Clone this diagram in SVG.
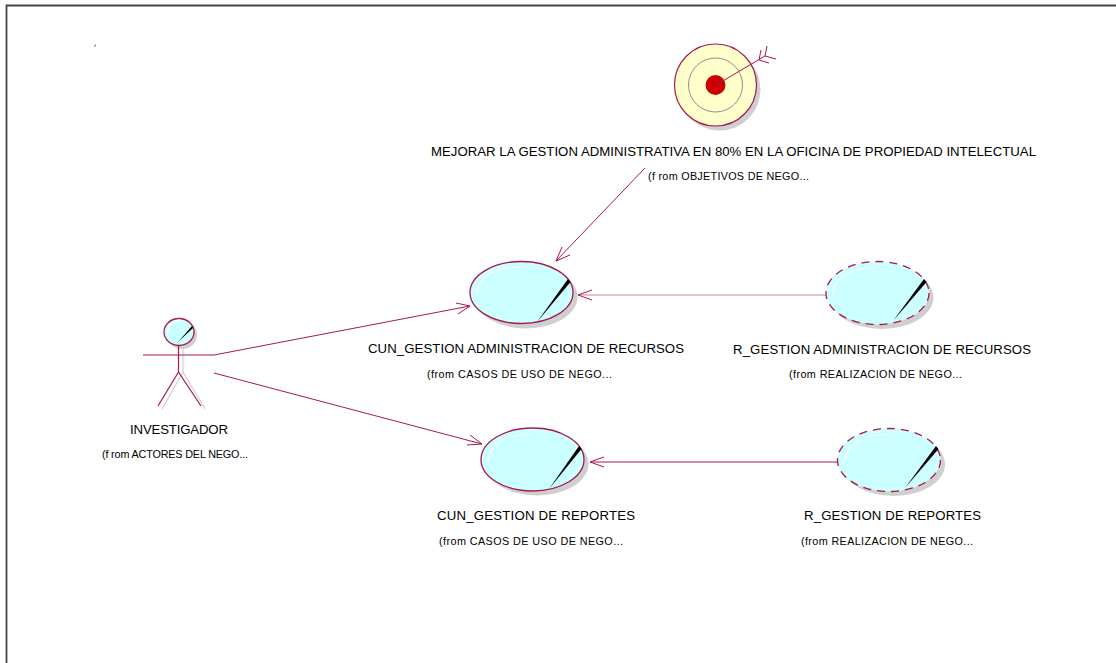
<svg xmlns="http://www.w3.org/2000/svg" width="1116" height="663" viewBox="0 0 1116 663">
<style>
text{font-family:"Liberation Sans",Arial,sans-serif;fill:#000;text-anchor:start}
.n{font-size:13.200px}
.s{font-size:10.800px}
.c{fill:none;stroke:#a8174f;stroke-width:1}
.f{fill:none;stroke:#d4809f;stroke-width:1}
.sh{fill:#cfcfcf;stroke:none}
.b{fill:#ccffff;stroke:#a8174f;stroke-width:1.300}
.d{fill:#ccffff;stroke:#a8174f;stroke-width:1.300;stroke-dasharray:8 6}
.g{fill:none;stroke:#fff;stroke-width:1.200}
.k{fill:#000;stroke:none}
</style>
<path d="M6.500 663V5.500H1116" fill="none" stroke="#444" stroke-width="1.800"/>
<path d="M94.500 47L95.500 44.500" stroke="#c0406f" stroke-width="1" fill="none"/>
<g id="connectors">
<path class="c" d="M645 168L556 261M556 261L570 255M556 261L562 247"/>
<path class="f" d="M826 295H578"/><path class="c" d="M578 295L592 290M578 295L592 300"/>
<path class="c" d="M214 355L470 306M470 306L456 303M470 306L458 314"/>
<path class="c" d="M214 373L482 444M482 444L470 435M482 444L467 445"/>
<path class="c" d="M838 462H590M590 462L604 457M590 462L604 467"/>
</g>
<g id="goal">
<circle class="sh" cx="719.500" cy="89.500" r="41"/>
<circle cx="715.500" cy="85" r="41" fill="#ffffcc" stroke="#a8174f" stroke-width="1.200"/>
<circle cx="715.500" cy="85" r="27" fill="none" stroke="#8f8f8f" stroke-width="1"/>
<circle cx="715.500" cy="85" r="10" fill="#cc0000"/>
<path class="c" d="M716 85L765 56M759 60L761 50M759 60L769 63M765 56L767 46M765 56L776 59"/>
<text class="n" x="431" y="156" textLength="605">MEJORAR LA GESTION ADMINISTRATIVA EN 80% EN LA OFICINA DE PROPIEDAD INTELECTUAL</text>
<text class="s" x="648" y="180" textLength="161">(f rom OBJETIVOS DE NEGO...</text>
</g>
<g id="actor">
<ellipse class="sh" cx="182" cy="335" rx="15" ry="14"/>
<path d="M183 345V372L205 409M183 372L162 409" fill="none" stroke="#d0d0d0" stroke-width="1.200"/>
<ellipse class="b" cx="179" cy="332" rx="15" ry="13.500"/>
<path class="g" d="M168 332C168 325 173 321 180 320"/>
<path class="k" d="M178 342L192 326L193 328Z"/>
<path class="c" d="M178.500 345V372M143 355H214M178.500 372L158 406M178.500 372L201 406" style="stroke-width:1.200"/>
<text class="n" x="130" y="434" textLength="98">INVESTIGADOR</text>
<text class="s" x="102" y="458" textLength="146">(f rom ACTORES DEL NEGO...</text>
</g>
<g id="cun1">
<ellipse class="sh" cx="526" cy="297" rx="51.500" ry="31.500"/>
<ellipse class="b" cx="521.500" cy="292.500" rx="51.500" ry="31"/>
<path class="g" d="M476.500 294C477 276 497 267 519 267.500"/>
<path class="k" d="M537 322L568 279L570.500 282Z"/>
<text class="n" x="368" y="353" textLength="316">CUN_GESTION ADMINISTRACION DE RECURSOS</text>
<text class="s" x="427" y="378" textLength="185">(from CASOS DE USO DE NEGO...</text>
</g>
<g id="real1">
<ellipse class="sh" cx="882" cy="297.500" rx="51.500" ry="31.500"/>
<ellipse class="d" cx="877.500" cy="293" rx="51.500" ry="31.500"/>
<path class="g" d="M833 294C834 276 854 267 877 267.500"/>
<path class="k" d="M893 321L924 279L926.500 282Z"/>
<text class="n" x="733" y="354" textLength="298">R_GESTION ADMINISTRACION DE RECURSOS</text>
<text class="s" x="789" y="378" textLength="173">(from REALIZACION DE NEGO...</text>
</g>
<g id="cun2">
<ellipse class="sh" cx="537" cy="464" rx="51.500" ry="31.500"/>
<ellipse class="b" cx="532.500" cy="459.500" rx="51.500" ry="31.500"/>
<path class="g" d="M488 461C489 443 509 434 531 434.500"/>
<path class="k" d="M549 489L579 446L581.500 449Z"/>
<text class="n" x="437" y="520" textLength="198">CUN_GESTION DE REPORTES</text>
<text class="s" x="439" y="545" textLength="184">(from CASOS DE USO DE NEGO...</text>
</g>
<g id="real2">
<ellipse class="sh" cx="893.500" cy="464.500" rx="51.500" ry="31.500"/>
<ellipse class="d" cx="889" cy="460" rx="51.500" ry="31.500"/>
<path class="g" d="M845 461C846 443 866 434 888 434.500"/>
<path class="k" d="M905 488L936 446L938.500 449Z"/>
<text class="n" x="804" y="520" textLength="177">R_GESTION DE REPORTES</text>
<text class="s" x="801" y="545" textLength="172">(from REALIZACION DE NEGO...</text>
</g>
</svg>
